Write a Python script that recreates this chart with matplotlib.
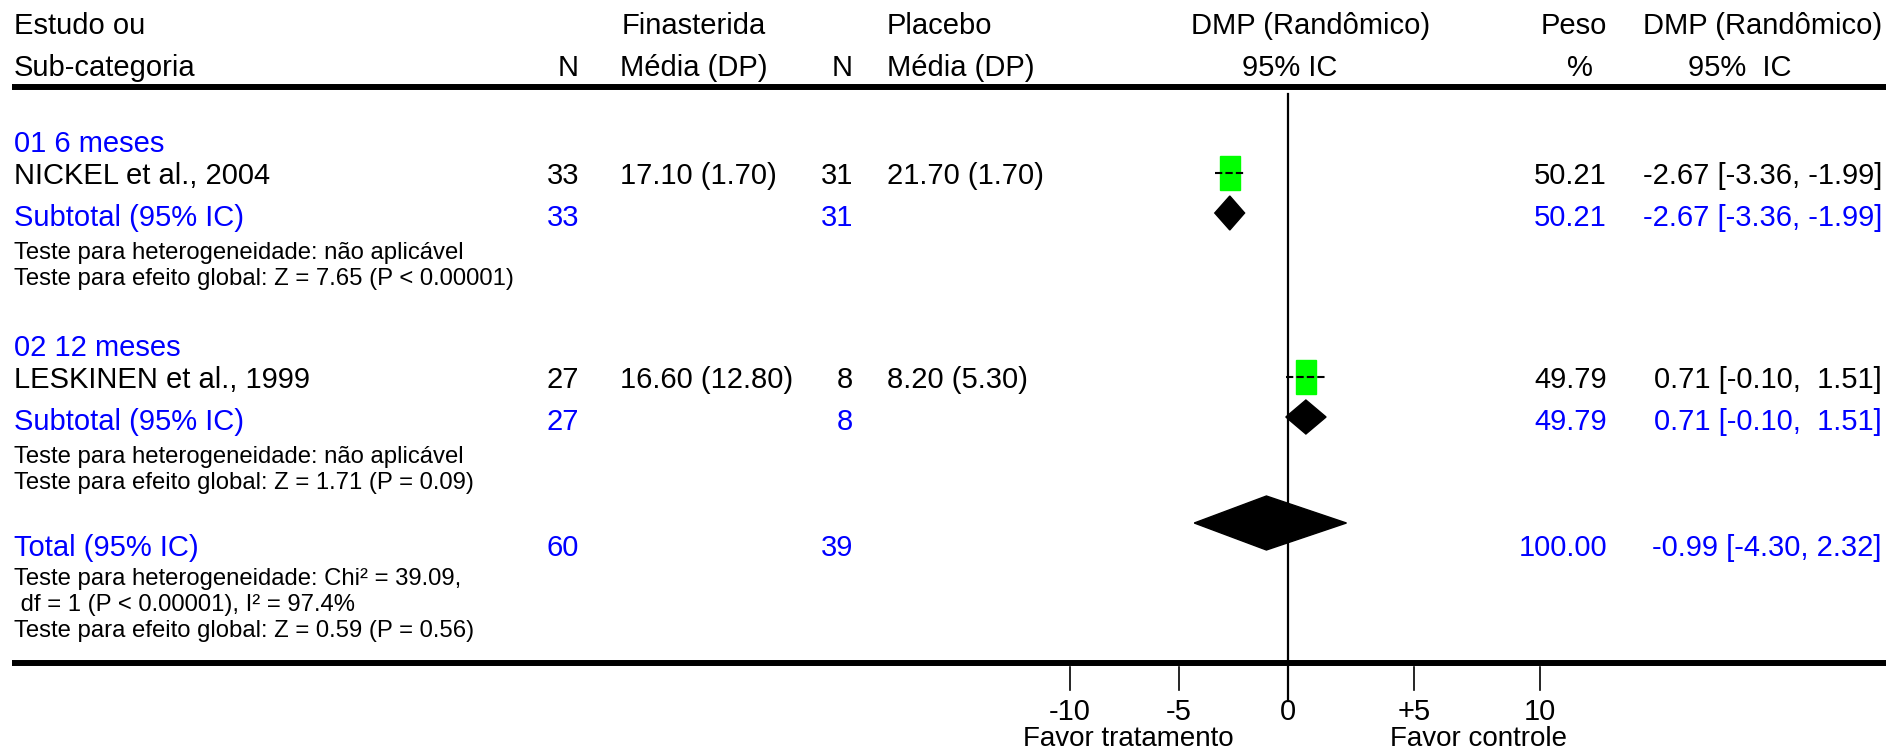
import numpy as np
import matplotlib
matplotlib.use("Agg")
import matplotlib.pyplot as plt
from matplotlib.patches import Polygon, Rectangle

plt.rcParams['font.family'] = ['Liberation Sans', 'DejaVu Sans']

# dados do forest plot
grupos = ["01 6 meses", "02 12 meses"]
estudos = ["NICKEL et al., 2004", "LESKINEN et al., 1999"]
n_fin = [33, 27]
media_fin = ["17.10 (1.70)", "16.60 (12.80)"]
n_plac = [31, 8]
media_plac = ["21.70 (1.70)", "8.20 (5.30)"]
dmp = [-2.67, 0.71]
ic_inf = [-3.36, -0.10]
ic_sup = [-1.99, 1.51]
peso = [50.21, 49.79]
notas_sub = [
    ["Teste para heterogeneidade: não aplicável",
     "Teste para efeito global: Z = 7.65 (P < 0.00001)"],
    ["Teste para heterogeneidade: não aplicável",
     "Teste para efeito global: Z = 1.71 (P = 0.09)"],
]

total_n_fin = 60
total_n_plac = 39
total_dmp = -0.99
total_inf = -4.30
total_sup = 2.32
total_peso = 100.00
notas_total = ["Teste para heterogeneidade: Chi² = 39.09,",
               " df = 1 (P < 0.00001), I² = 97.4%",
               "Teste para efeito global: Z = 0.59 (P = 0.56)"]

ticks = [-10, -5, 0, 5, 10]
tick_labels = ["-10", "-5", "0", "+5", "10"]

# layout (pixels)
W, H = 1886, 754
X0 = 1288        # posicao do zero
L_PPU = 21.8     # pixels por unidade, lado negativo
R_PPU = 25.2     # pixels por unidade, lado positivo (eixo do original nao e simetrico)
AZUL = "#0000ff"
VERDE = "#00ff00"
FS = 21
FS_P = 17.2
DY = 2.5         # ajuste vertical do texto

def fwd(x):
    x = np.asarray(x, dtype=float)
    return np.where(x < 0, x * L_PPU, x * R_PPU)

def inv(d):
    d = np.asarray(d, dtype=float)
    return np.where(d < 0, d / L_PPU, d / R_PPU)

def col(px):
    return float(inv(px - X0))

fig = plt.figure(figsize=(W / 100, H / 100), dpi=100)
ax = fig.add_axes([0, 0, 1, 1])
ax.set_xscale("function", functions=(fwd, inv))
ax.set_xlim(col(0), col(W))
ax.set_ylim(H, 0)
ax.axis("off")

def txt(x, y, s, fs=FS, **kw):
    ax.text(x, y + DY, s, fontsize=fs, va="center", **kw)

# cabecalho
txt(col(14), 24, "Estudo ou")
txt(col(14), 66, "Sub-categoria")
txt(col(579), 66, "N", ha="right")
txt(col(694), 24, "Finasterida", ha="center")
txt(col(620), 66, "Média (DP)")
txt(col(853), 66, "N", ha="right")
txt(col(887), 24, "Placebo")
txt(col(887), 66, "Média (DP)")
txt(col(1311), 24, "DMP (Randômico)", ha="center")
txt(col(1290), 66, "95% IC", ha="center")
txt(col(1607), 24, "Peso", ha="right")
txt(col(1580), 66, "%", ha="center")
txt(col(1882), 24, "DMP (Randômico)", ha="right")
txt(col(1740), 66, "95%  IC", ha="center")

# linhas grossas
for y in [87, 663]:
    ax.plot([col(12), col(W)], [y, y], color="black", lw=4.3, solid_capstyle="butt")

# linha do zero
ax.plot([0, 0], [94, 701], color="black", lw=1.6)

def diamante(lo, mid, hi, yc, meia_altura):
    ax.add_patch(Polygon([(lo, yc), (mid, yc - meia_altura), (hi, yc), (mid, yc + meia_altura)],
                         closed=True, color="black", zorder=3))

def quadrado(x, yc, largura_px, altura_px):
    x0 = float(inv(fwd(x) - largura_px / 2))
    x1 = float(inv(fwd(x) + largura_px / 2))
    ax.add_patch(Rectangle((x0, yc - altura_px / 2), x1 - x0, altura_px, color=VERDE, zorder=2))

for i in range(len(estudos)):
    y0 = 141 + 204 * i
    txt(col(14), y0, grupos[i], color=AZUL)

    ye = y0 + 32
    txt(col(14), ye, estudos[i])
    txt(col(579), ye, str(n_fin[i]), ha="right")
    txt(col(620), ye, media_fin[i])
    txt(col(853), ye, str(n_plac[i]), ha="right")
    txt(col(887), ye, media_plac[i])
    txt(col(1607), ye, f"{peso[i]:.2f}", ha="right")
    txt(col(1882), ye, f"{dmp[i]:.2f} [{ic_inf[i]:.2f}, {ic_sup[i]:5.2f}]", ha="right")
    quadrado(dmp[i], ye, 20 * np.sqrt(peso[i] / 50), 34 * np.sqrt(peso[i] / 50))
    ax.plot([ic_inf[i], ic_sup[i]], [ye, ye], color="black", lw=1.5,
            ls=(0, (3.5, 1.5)), zorder=3)

    ys = y0 + 75
    txt(col(14), ys, "Subtotal (95% IC)", color=AZUL)
    txt(col(579), ys, str(n_fin[i]), ha="right", color=AZUL)
    txt(col(853), ys, str(n_plac[i]), ha="right", color=AZUL)
    txt(col(1607), ys, f"{peso[i]:.2f}", ha="right", color=AZUL)
    txt(col(1882), ys, f"{dmp[i]:.2f} [{ic_inf[i]:.2f}, {ic_sup[i]:5.2f}]",
        ha="right", color=AZUL)
    diamante(ic_inf[i], dmp[i], ic_sup[i], ys - 3, 17)

    for k, nota in enumerate(notas_sub[i]):
        txt(col(14), y0 + 110 + 25 * k, nota, fs=FS_P)

# total
yt = 545
txt(col(14), yt, "Total (95% IC)", color=AZUL)
txt(col(579), yt, str(total_n_fin), ha="right", color=AZUL)
txt(col(853), yt, str(total_n_plac), ha="right", color=AZUL)
txt(col(1607), yt, f"{total_peso:.2f}", ha="right", color=AZUL)
txt(col(1882), yt, f"{total_dmp:.2f} [{total_inf:.2f}, {total_sup:.2f}]",
    ha="right", color=AZUL)
diamante(total_inf, total_dmp, total_sup, yt - 22, 27)
for k, nota in enumerate(notas_total):
    txt(col(14), 576 + 26.5 * k, nota, fs=FS_P)

# eixo
for t, lab in zip(ticks, tick_labels):
    if t != 0:
        ax.plot([t, t], [667, 690], color="black", lw=1.2)
    txt(t, 710, lab, ha="center")
txt(col(1128), 737, "Favor tratamento", fs=20, ha="center")
txt(col(1478), 737, "Favor controle", fs=20, ha="center")

fig.savefig("out.png", dpi=100)
